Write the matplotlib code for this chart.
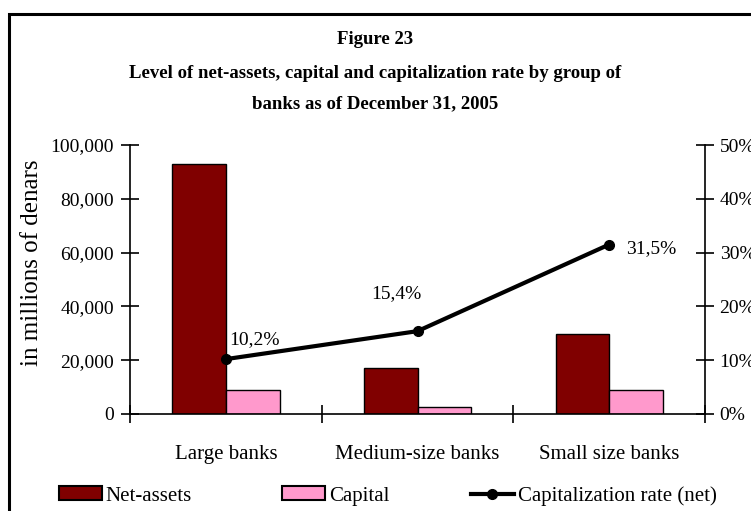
import matplotlib.pyplot as plt
from matplotlib.patches import Rectangle
from matplotlib.lines import Line2D
import numpy as np

plt.rcParams['font.family'] = ['Liberation Serif', 'DejaVu Serif']

groups = ["Large banks", "Medium-size banks", "Small size banks"]
net_assets = [93000, 17000, 29600]
capital = [8800, 2700, 8800]
cap_rate = [10.2, 15.4, 31.5]
rate_labels = ["10,2%", "15,4%", "31,5%"]
left_ticks = [0, 20000, 40000, 60000, 80000, 100000]
right_ticks = [0, 10, 20, 30, 40, 50]

W, H = 751, 511
fig = plt.figure(figsize=(W / 100, H / 100), dpi=100)
ax = fig.add_axes([130 / W, 1 - 414 / H, 575 / W, 269 / H])

x = np.arange(len(groups))
w = 0.28
ax.bar(x - w / 2, net_assets, w, color="#800000", edgecolor="black", linewidth=1, zorder=2)
ax.bar(x + w / 2, capital, w, color="#FF99CC", edgecolor="black", linewidth=1, zorder=2)

ax.set_xlim(-0.5, 2.5)
ax.set_ylim(0, 100000)
ax.set_yticks(left_ticks)
ax.set_yticklabels([f"{v:,}" for v in left_ticks])
ax.set_xticks([-0.5, 0.5, 1.5, 2.5])
ax.set_xticklabels([])
ax.tick_params(axis="both", direction="inout", length=13, width=1.2, labelsize=14)
ax.tick_params(axis="y", pad=5)
for i, g in enumerate(groups):
    ax.text(i, -15200, g, ha="center", va="center", fontsize=15)
ax.spines["top"].set_visible(False)
ax.spines["right"].set_visible(False)
for s in ["left", "bottom"]:
    ax.spines[s].set_linewidth(1.2)
fig.text(32 / W, 1 - 263 / H, "in millions of denars", rotation=90, ha="center", va="center",
         fontsize=18)

ax2 = ax.twinx()
ax2.plot(x, cap_rate, color="black", linewidth=3, marker="o", markersize=7, zorder=3)
ax2.set_ylim(0, 50)
ax2.set_yticks(right_ticks)
ax2.set_yticklabels([f"{v}%" for v in right_ticks])
ax2.tick_params(axis="y", direction="inout", length=13, width=1.2, labelsize=14, pad=4)
ax2.spines["top"].set_visible(False)
ax2.spines["left"].set_visible(False)
ax2.spines["bottom"].set_visible(False)
ax2.spines["right"].set_linewidth(1.2)

offsets = [(0.15, 3.7), (-0.11, 7.0), (0.22, -0.75)]
for xi, v, lab, (dx, dy) in zip(x, cap_rate, rate_labels, offsets):
    ax2.text(xi + dx, v + dy, lab, ha="center", va="center", fontsize=14)

title_lines = ["Figure 23",
               "Level of net-assets, capital and capitalization rate by group of",
               "banks as of December 31, 2005"]
for ty, line in zip([40, 73, 104], title_lines):
    fig.text(0.5, 1 - ty / H, line, ha="center", va="center", fontsize=13.5, fontweight="bold")

# outer frame
fig.add_artist(Rectangle((9 / W, -0.05), 1.1, 1 - 14 / H + 0.05, transform=fig.transFigure,
                         fill=False, edgecolor="black", linewidth=2.2))

# legend entries placed one by one
entries = [
    (Rectangle((0, 0), 1, 1, facecolor="#800000", edgecolor="black", linewidth=1.5), "Net-assets", 59),
    (Rectangle((0, 0), 1, 1, facecolor="#FF99CC", edgecolor="black", linewidth=1.5), "Capital", 282),
    (Line2D([], [], color="black", linewidth=3, marker="o", markersize=7), "Capitalization rate (net)", 471),
]
for handle, label, left in entries:
    fig.legend([handle], [label], loc="center left", bbox_to_anchor=(left / W, 1 - 496 / H),
               frameon=False, fontsize=15, handlelength=2.05, handleheight=0.63,
               handletextpad=0.2, borderpad=0, borderaxespad=0)

fig.savefig("out.png", dpi=100)
